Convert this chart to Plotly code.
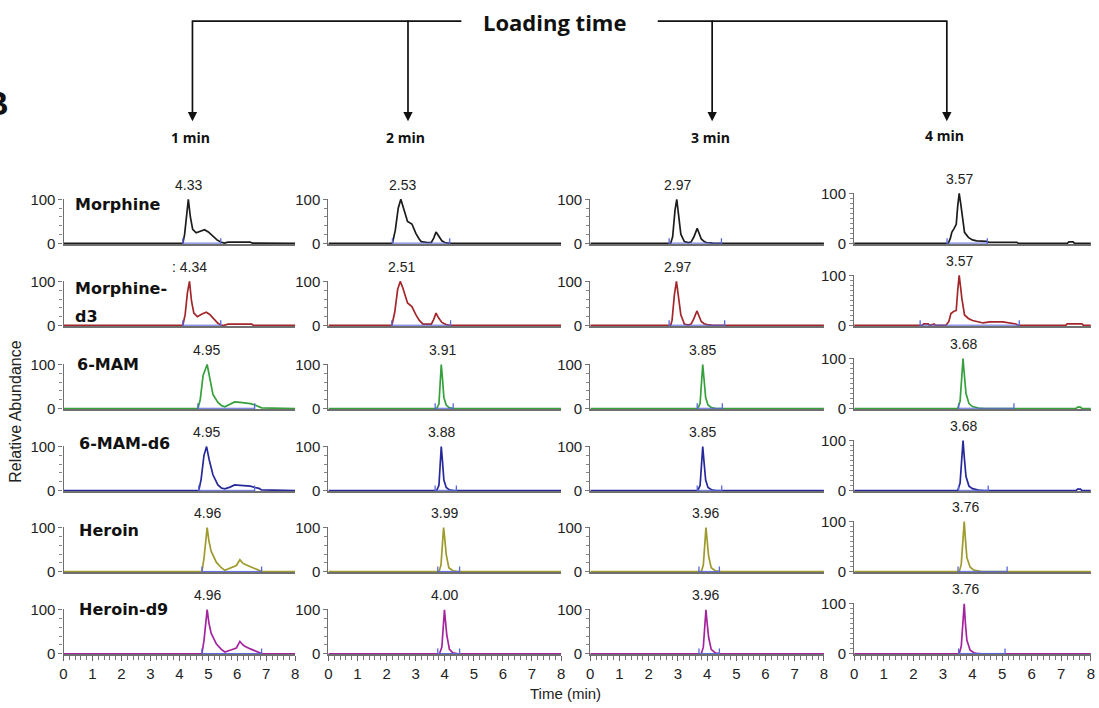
import plotly.graph_objects as go

# Figure size; the photographed page maps figure pixels to picture pixels
# as  pic = S * (fig + 8)  (body margin + fit-to-window), so positions below
# are given in picture pixels and converted.
W, H = 1099, 708
OFF = 8
SX, SY = 1099 / 1115, 708 / 725

# ---------------- data ----------------
compounds = ["Morphine", "Morphine-d3", "6-MAM", "6-MAM-d6", "Heroin", "Heroin-d9"]
loading_times = ["1 min", "2 min", "3 min", "4 min"]
x_ticks = [0, 1, 2, 3, 4, 5, 6, 7, 8]

# Loading time 1 min
morphine_t1 = [0, 4.12, 4.18, 4.25, 4.31, 4.38, 4.46, 4.58, 4.72, 4.87, 5.0, 5.15, 5.3, 5.43, 5.55, 5.68, 6.45, 6.52, 8]
morphine_y1 = [0, 0, 20, 70, 100, 60, 32, 24, 27, 31, 26, 16, 8, 3, 0.5, 3, 3, 0.5, 0]
morphined3_t1 = [0, 4.12, 4.2, 4.28, 4.35, 4.42, 4.5, 4.62, 4.78, 4.93, 5.05, 5.2, 5.33, 5.43, 5.55, 5.68, 6.5, 6.55, 8]
morphined3_y1 = [0, 0, 25, 75, 100, 55, 28, 20, 26, 30, 25, 13, 5, 1, 0.5, 3, 3, 0.5, 0]
mam_t1 = [0, 4.64, 4.72, 4.82, 4.96, 5.05, 5.16, 5.33, 5.45, 5.57, 5.75, 5.91, 6.1, 6.26, 6.45, 6.61, 6.75, 6.84, 8]
mam_y1 = [0, 0, 20, 75, 100, 70, 32, 14, 7, 4, 9, 15, 14, 13, 11, 8, 5, 1.5, 0]
mamd6_t1 = [0, 4.67, 4.75, 4.85, 4.94, 5.03, 5.16, 5.33, 5.45, 5.57, 5.75, 5.91, 6.1, 6.26, 6.45, 6.61, 6.75, 6.84, 8]
mamd6_y1 = [0, 0, 25, 80, 100, 70, 36, 13, 6, 4, 8, 13, 12, 11, 10, 7, 5, 1.5, 0]
heroin_t1 = [0, 4.78, 4.85, 4.92, 4.96, 5.02, 5.1, 5.28, 5.45, 5.57, 5.7, 5.8, 5.97, 6.09, 6.18, 6.26, 6.45, 6.61, 6.75, 6.84, 8]
heroin_y1 = [0, 0, 30, 85, 100, 70, 46, 21, 9, 3, 6, 10, 14, 27, 20, 17, 11, 6, 3, 1, 0]
heroind9_t1 = [0, 4.78, 4.85, 4.92, 4.96, 5.02, 5.1, 5.28, 5.45, 5.57, 5.7, 5.8, 5.97, 6.09, 6.18, 6.26, 6.45, 6.61, 6.75, 6.84, 8]
heroind9_y1 = [0, 0, 30, 85, 100, 70, 46, 22, 10, 4, 6, 9, 13, 28, 21, 17, 11, 7, 3, 0.5, 0]

# Loading time 2 min
morphine_t2 = [0, 2.2, 2.3, 2.4, 2.49, 2.58, 2.72, 2.87, 3.01, 3.12, 3.19, 3.4, 3.54, 3.62, 3.7, 3.78, 3.9, 4.0, 4.17, 8]
morphine_y2 = [0, 0, 30, 80, 100, 82, 50, 44, 22, 10, 4, 2, 2, 12, 26, 18, 6, 2, 0, 0]
morphined3_t2 = [0, 2.18, 2.28, 2.38, 2.47, 2.56, 2.72, 2.87, 3.01, 3.12, 3.25, 3.4, 3.54, 3.62, 3.7, 3.78, 3.9, 4.05, 4.2, 8]
morphined3_y2 = [0, 0, 30, 82, 100, 85, 51, 43, 24, 12, 3, 3, 3, 14, 28, 18, 7, 2, 0, 0]
mam_t2 = [0, 3.72, 3.8, 3.85, 3.88, 3.92, 3.97, 4.05, 4.15, 4.3, 8]
mam_y2 = [0, 0, 10, 70, 100, 70, 25, 8, 2, 0, 0]
mamd6_t2 = [0, 3.72, 3.8, 3.85, 3.88, 3.92, 3.97, 4.05, 4.15, 4.3, 8]
mamd6_y2 = [0, 0, 12, 72, 100, 68, 24, 7, 2, 0, 0]
heroin_t2 = [0, 3.8, 3.87, 3.92, 3.96, 4.0, 4.05, 4.14, 4.28, 4.45, 8]
heroin_y2 = [0, 0, 15, 75, 100, 75, 39, 9, 2, 0, 0]
heroind9_t2 = [0, 3.82, 3.9, 3.95, 3.99, 4.03, 4.07, 4.16, 4.28, 4.45, 8]
heroind9_y2 = [0, 0, 15, 75, 100, 70, 43, 10, 2, 0, 0]

# Loading time 3 min
morphine_t3 = [0, 2.75, 2.82, 2.9, 2.96, 3.02, 3.1, 3.22, 3.35, 3.45, 3.55, 3.66, 3.74, 3.8, 3.9, 3.97, 4.14, 4.2, 8]
morphine_y3 = [0, 0, 15, 75, 100, 65, 21, 4, 2, 3, 15, 34, 22, 10, 4, 2, 1, 0, 0]
morphined3_t3 = [0, 2.75, 2.8, 2.88, 2.95, 3.02, 3.1, 3.22, 3.35, 3.45, 3.55, 3.65, 3.74, 3.8, 3.9, 4.0, 4.2, 8]
morphined3_y3 = [0, 0, 12, 70, 100, 68, 24, 3, 1, 3, 16, 33, 20, 9, 4, 2, 0, 0]
mam_t3 = [0, 3.68, 3.76, 3.81, 3.85, 3.89, 3.95, 4.03, 4.15, 4.3, 8]
mam_y3 = [0, 0, 12, 70, 100, 70, 25, 8, 2, 0, 0]
mamd6_t3 = [0, 3.68, 3.76, 3.81, 3.85, 3.89, 3.95, 4.03, 4.15, 4.3, 8]
mamd6_y3 = [0, 0, 12, 72, 100, 68, 24, 7, 2, 0, 0]
heroin_t3 = [0, 3.8, 3.87, 3.92, 3.96, 4.0, 4.05, 4.14, 4.28, 4.45, 8]
heroin_y3 = [0, 0, 15, 75, 100, 72, 36, 9, 2, 0, 0]
heroind9_t3 = [0, 3.8, 3.87, 3.92, 3.96, 4.0, 4.05, 4.14, 4.28, 4.45, 8]
heroind9_y3 = [0, 0, 15, 75, 100, 70, 38, 10, 2, 0, 0]

# Loading time 4 min
morphine_t4 = [0, 3.18, 3.25, 3.3, 3.38, 3.45, 3.5, 3.55, 3.6, 3.65, 3.73, 3.86, 4.0, 4.14, 4.47, 4.55, 5.5, 5.55, 7.2, 7.26, 7.4, 7.45, 8]
morphine_y4 = [0, 0, 10, 22, 30, 38, 75, 100, 80, 55, 22, 12, 7, 5, 4, 2, 2, 0, 0, 3, 3, 0, 0]
morphined3_t4 = [0, 2.3, 2.35, 2.5, 2.55, 2.7, 2.75, 3.1, 3.2, 3.27, 3.36, 3.45, 3.5, 3.55, 3.6, 3.64, 3.73, 3.86, 4.0, 4.2, 4.36, 4.58, 5.03, 5.47, 5.55, 7.15, 7.2, 7.7, 7.75, 8]
morphined3_y4 = [0, 0, 3, 3, 0, 3, 0, 0, 8, 24, 28, 30, 70, 100, 75, 54, 21, 14, 10, 8, 5, 7, 7, 3, 0, 0, 3, 3, 0, 0]
mam_t4 = [0, 3.5, 3.58, 3.64, 3.68, 3.72, 3.78, 3.88, 4.0, 4.2, 4.4, 7.5, 7.55, 7.65, 7.7, 8]
mam_y4 = [0, 0, 15, 75, 100, 70, 30, 10, 4, 1, 0, 0, 3, 3, 0, 0]
mamd6_t4 = [0, 3.5, 3.58, 3.64, 3.68, 3.72, 3.78, 3.88, 4.0, 4.2, 4.4, 7.5, 7.55, 7.65, 7.7, 8]
mamd6_y4 = [0, 0, 15, 78, 100, 68, 28, 9, 4, 1, 0, 0, 3, 3, 0, 0]
heroin_t4 = [0, 3.55, 3.62, 3.68, 3.72, 3.76, 3.81, 3.92, 4.05, 4.14, 4.3, 8]
heroin_y4 = [0, 0, 15, 80, 100, 65, 28, 9, 3, 2, 0, 0]
heroind9_t4 = [0, 3.55, 3.62, 3.68, 3.72, 3.76, 3.81, 3.92, 4.05, 4.14, 4.3, 8]
heroind9_y4 = [0, 0, 15, 80, 100, 60, 27, 7, 2, 1, 0, 0]

# retention time labels (row = compound, column = loading time)
peak_labels = [
    ["4.33", "2.53", "2.97", "3.57"],
    [": 4.34", "2.51", "2.97", "3.57"],
    ["4.95", "3.91", "3.85", "3.68"],
    ["4.95", "3.88", "3.85", "3.68"],
    ["4.96", "3.99", "3.96", "3.76"],
    ["4.96", "4.00", "3.96", "3.76"],
]

# integration windows (start, end) in min
integ_windows = [
    [(4.12, 5.43), (2.2, 4.17), (2.7, 4.49), (3.14, 4.5)],
    [(4.12, 5.43), (2.18, 4.2), (2.7, 4.6), (2.23, 5.58)],
    [(4.64, 6.6), (3.67, 4.29), (3.66, 4.52), (3.53, 5.4)],
    [(4.67, 6.6), (3.67, 4.4), (3.66, 4.5), (3.53, 4.53)],
    [(4.78, 6.84), (3.76, 4.51), (3.72, 4.42), (3.51, 5.17)],
    [(4.78, 6.84), (3.76, 4.51), (3.72, 4.42), (3.53, 5.1)],
]

series = [
    [(morphine_t1, morphine_y1), (morphine_t2, morphine_y2), (morphine_t3, morphine_y3), (morphine_t4, morphine_y4)],
    [(morphined3_t1, morphined3_y1), (morphined3_t2, morphined3_y2), (morphined3_t3, morphined3_y3), (morphined3_t4, morphined3_y4)],
    [(mam_t1, mam_y1), (mam_t2, mam_y2), (mam_t3, mam_y3), (mam_t4, mam_y4)],
    [(mamd6_t1, mamd6_y1), (mamd6_t2, mamd6_y2), (mamd6_t3, mamd6_y3), (mamd6_t4, mamd6_y4)],
    [(heroin_t1, heroin_y1), (heroin_t2, heroin_y2), (heroin_t3, heroin_y3), (heroin_t4, heroin_y4)],
    [(heroind9_t1, heroind9_y1), (heroind9_t2, heroind9_y2), (heroind9_t3, heroind9_y3), (heroind9_t4, heroind9_y4)],
]

# ---------------- style / layout ----------------
row_colors = ["#1c1c1c", "#a3262a", "#35a03c", "#27289a", "#9e9a2c", "#a3249e"]
integ_color = "#5866dc"
col_x0 = [67, 330, 590, 852]      # picture px of t=0
col_x8 = [297, 561, 822, 1087]    # picture px of t=8
row_base = [243, 325, 408, 490, 571, 653]   # picture px of 0 %
col_h = [44, 44, 44, 50]                      # picture px height of 0..100 %
YMIN, YMAX = -1.5, 101.5

fig = go.Figure()
layout = {}
annotations = []

def clamp(v):
    return max(0.0, min(1.0, v))

def px2x(p):
    return (p / SX - OFF) / W

def px2y(p):
    return 1 - (p / SY - OFF) / H

for r in range(6):
    for c in range(4):
        k = r * 4 + c + 1
        xa = "x" if k == 1 else f"x{k}"
        ya = "y" if k == 1 else f"y{k}"
        t, y = series[r][c]
        fig.add_trace(go.Scatter(x=t, y=y, xaxis=xa, yaxis=ya, mode="lines",
                                 line=dict(color=row_colors[r], width=1.7),
                                 showlegend=False, hoverinfo="skip"))
        s, e = integ_windows[r][c]
        fig.add_trace(go.Scatter(x=[s, e], y=[0.6, 0.6], xaxis=xa, yaxis=ya,
                                 mode="lines+markers",
                                 line=dict(color=integ_color, width=1),
                                 marker=dict(symbol="line-ns", size=7,
                                             line=dict(width=1.3, color=integ_color)),
                                 showlegend=False, hoverinfo="skip"))
        pxh = col_h[c] / 100.0
        y_bot = row_base[r] + (0 - YMIN) * pxh
        y_top = row_base[r] - (YMAX) * pxh
        bottom = (r == 5)
        xaxis = dict(domain=[clamp(px2x(col_x0[c])), clamp(px2x(col_x8[c]))], range=[0, 8],
                     anchor=ya, showgrid=False, zeroline=False,
                     showline=True, linecolor="#707070", linewidth=1.6,
                     fixedrange=True)
        if bottom:
            xaxis.update(tickmode="array", tickvals=x_ticks, ticktext=[str(v) for v in x_ticks],
                         ticks="outside", ticklen=5, tickwidth=1, tickcolor="#666",
                         tickfont=dict(size=15, color="#222"),
                         ticklabeloverflow="allow",
                         minor=dict(tickmode="linear", tick0=0, dtick=0.2, ticks="outside",
                                    ticklen=4, tickwidth=1, tickcolor="#777"))
        else:
            xaxis.update(showticklabels=False, ticks="")
        yaxis = dict(domain=[clamp(px2y(y_bot)), clamp(px2y(y_top))], range=[YMIN, YMAX],
                     anchor=xa, showgrid=False, zeroline=False,
                     showline=True, linecolor="#707070", linewidth=1.2,
                     tickmode="array", tickvals=[0, 100], ticktext=["0", "100"],
                     ticks="outside", ticklen=4, tickwidth=1, tickcolor="#777",
                     tickfont=dict(size=15, color="#222"),
                     minor=dict(tickmode="linear", tick0=0, dtick=(10 if c == 3 else 20),
                                ticks="outside", ticklen=3, tickwidth=1, tickcolor="#888"),
                     fixedrange=True)
        layout["xaxis" if k == 1 else f"xaxis{k}"] = xaxis
        layout["yaxis" if k == 1 else f"yaxis{k}"] = yaxis
        lab = peak_labels[r][c]
        annotations.append(dict(x=float(lab.replace(":", "").strip()), y=100,
                                xref=xa, yref=ya, text=lab, showarrow=False,
                                xanchor="center", yanchor="middle",
                                yshift=14.5, font=dict(size=14, color="#222")))

def paper_text(text, xp, yp, size, family=None, xanchor="center", angle=0, color="#111"):
    f = dict(size=size, color=color)
    if family:
        f["family"] = family
    return dict(x=px2x(xp), y=px2y(yp), xref="paper", yref="paper",
                xanchor=xanchor, yanchor="middle", showarrow=False,
                text=text, textangle=angle, font=f)

# compound names (first column)
name_pos = [("Morphine", 76, 204), ("Morphine-", 76, 288), ("d3", 76, 316),
            ("6-MAM", 78, 364), ("6-MAM-d6", 80, 443), ("Heroin", 80, 530),
            ("Heroin-d9", 80, 609)]
for txt, xp, yp in name_pos:
    annotations.append(paper_text(f"<b>{txt}</b>", xp, yp, 16, "DejaVu Sans", xanchor="left"))

# loading time header
annotations.append(paper_text("<b>Loading time</b>", 554, 22, 22, "Open Sans"))
arrow_x = [195, 409, 711, 944]
label_y = [137, 137, 137, 135]
for lt, xp, ly in zip(loading_times, arrow_x, label_y):
    annotations.append(dict(x=px2x(xp), y=px2y(121), xref="paper", yref="paper",
                            ax=0, ay=-100 / SY, text="", showarrow=True,
                            arrowhead=2, arrowsize=1.1, arrowwidth=1.7,
                            arrowcolor="#111", standoff=0))
    annotations.append(paper_text(f"<b>{lt}</b>", xp - 2, ly, 14, "Open Sans"))

# axis titles
annotations.append(paper_text("Relative Abundance", 19, 411, 16, angle=-90, color="#222"))
annotations.append(paper_text("Time (min)", 565, 693, 15, color="#222"))
# clipped panel letter at the far left
annotations.append(paper_text("<b>B</b>", 15, 103, 34, xanchor="right"))

shapes = [
    dict(type="line", xref="paper", yref="paper", x0=px2x(195), x1=px2x(462),
         y0=px2y(21), y1=px2y(21), line=dict(color="#111", width=1.7)),
    dict(type="line", xref="paper", yref="paper", x0=px2x(657), x1=px2x(944),
         y0=px2y(21), y1=px2y(21), line=dict(color="#111", width=1.7)),
]

fig.update_layout(**layout)
fig.update_layout(width=W, height=H, margin=dict(l=0, r=0, t=0, b=0),
                  paper_bgcolor="white", plot_bgcolor="white",
                  font=dict(family="Liberation Sans, Arial", color="#222"),
                  annotations=annotations, shapes=shapes, showlegend=False)

fig.write_html("out.html")
